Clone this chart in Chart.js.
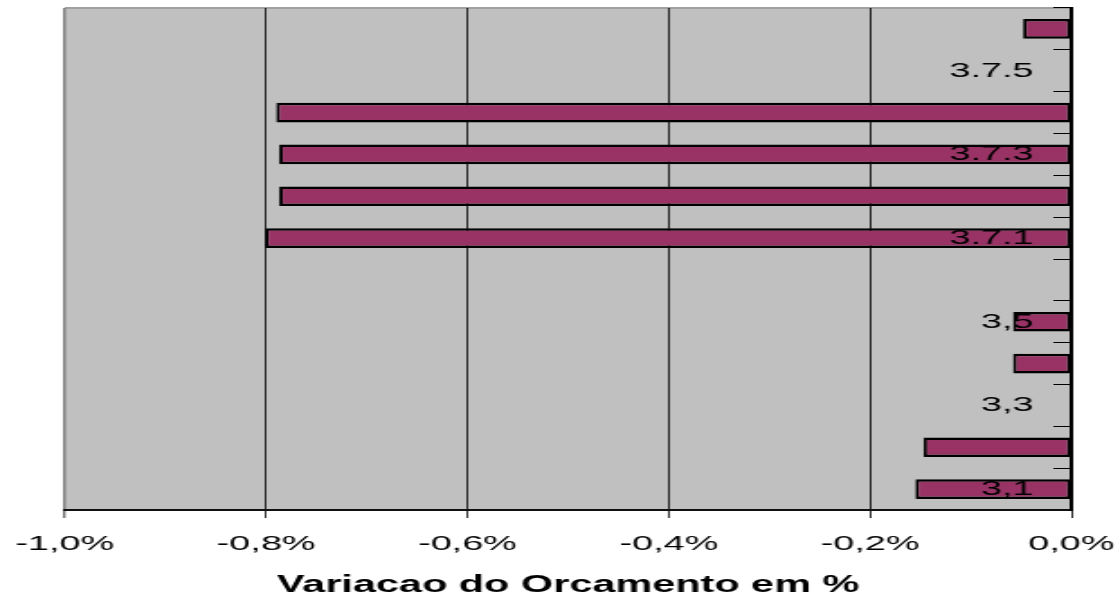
<!DOCTYPE html>
<html>
<head>
<meta charset="utf-8">
<script src="https://cdn.jsdelivr.net/npm/chart.js@4/dist/chart.umd.min.js"></script>
<style>
  html, body { margin: 0; padding: 0; background: #ffffff; overflow: hidden; }
</style>
</head>
<body>
<!-- the drawing is rendered narrow and widened on screen, giving the broad lettering -->
<canvas id="chart" width="622" height="599" style="display:block;width:1120px;height:599px"></canvas>
<script>
// Budget items, listed from the bottom of the axis upwards
const categories = ['3,1', '3,2', '3,3', '3,4', '3,5', '3,6', '3.7.1', '3.7.2', '3.7.3', '3.7.4', '3.7.5', '3.7.6'];
// Budget variation per item, in percent
const variation = [-0.155, -0.147, null, -0.058, -0.058, null, -0.801, -0.787, -0.787, -0.790, null, -0.048];
// Value axis ticks, in percent
const xTicks = [-1.0, -0.8, -0.6, -0.4, -0.2, 0.0];
const xTitle = 'Variacao do Orcamento em %';

Chart.defaults.font.family = "'Liberation Sans', Arial, sans-serif";
Chart.defaults.color = '#000000';

// Silver plot area with a light top edge
const plotFrame = {
  id: 'plotFrame',
  beforeDraw(chart) {
    const { ctx, chartArea: a } = chart;
    ctx.save();
    ctx.fillStyle = '#c0c0c0';
    ctx.fillRect(a.left, a.top, a.right - a.left, a.bottom - a.top);
    ctx.strokeStyle = '#a0a0a0';
    ctx.lineWidth = 2;
    ctx.beginPath();
    ctx.moveTo(a.left, a.top);
    ctx.lineTo(a.right, a.top);
    ctx.stroke();
    ctx.restore();
  }
};

const fmtPct = v => Number(v).toFixed(1).replace('.', ',') + '%';

new Chart(document.getElementById('chart'), {
  type: 'bar',
  data: {
    labels: categories,
    datasets: [{
      data: variation,
      backgroundColor: '#993366',
      borderColor: '#000000',
      borderWidth: { top: 2.5, bottom: 2.5, left: 2, right: 2 },
      borderSkipped: false,
      categoryPercentage: 1,
      barPercentage: 0.47
    }]
  },
  options: {
    indexAxis: 'y',
    responsive: false,
    animation: false,
    devicePixelRatio: 1,
    layout: { padding: { left: 36, right: 27, top: 8, bottom: 0 } },
    plugins: { legend: { display: false }, tooltip: { enabled: false } },
    scales: {
      x: {
        type: 'linear',
        min: -1,
        max: 0,
        afterBuildTicks: s => { s.ticks = xTicks.map(v => ({ value: v })); },
        afterFit: s => { s.paddingLeft = 0; s.paddingRight = 0; s.height = 89; },
        grid: {
          color: c => (c.tick && c.tick.value === -1 ? '#808080' : '#000000'),
          lineWidth: c => (c.tick && c.tick.value === -1 ? 1.5 : 0.8),
          tickLength: 8,
          tickColor: '#000000',
          tickWidth: 0.8
        },
        border: { color: '#111111', width: 2 },
        ticks: {
          autoSkip: false,
          maxRotation: 0,
          padding: 14,
          font: { size: 21 },
          callback: v => fmtPct(v)
        },
        title: {
          display: true,
          text: xTitle,
          font: { size: 23, weight: 'bold' },
          padding: { top: 0, bottom: 0 }
        }
      },
      y: {
        type: 'category',
        position: 'right',
        reverse: true,
        offset: true,
        afterFit: s => { s.width = 0; s.paddingTop = 0; s.paddingBottom = 0; },
        grid: {
          drawOnChartArea: false,
          offset: true,
          tickLength: -10,
          color: '#000000',
          lineWidth: 1
        },
        border: { color: '#000000', width: 2, z: 1 },
        ticks: {
          mirror: true,
          padding: -21,
          autoSkip: false,
          z: 1,
          font: { size: 21 },
          callback: (v, i) => (i % 2 === 0 ? categories[i] : '')
        }
      }
    }
  },
  plugins: [plotFrame]
});
</script>
</body>
</html>
